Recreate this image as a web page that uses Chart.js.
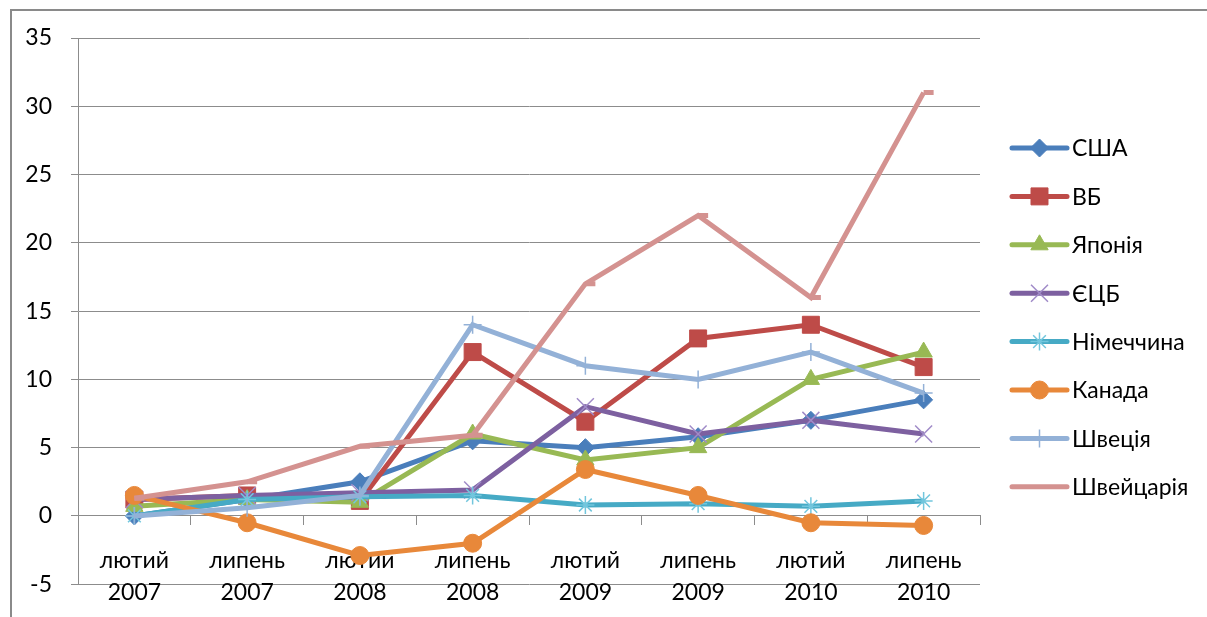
<!DOCTYPE html>
<html>
<head>
<meta charset="utf-8">
<script src="https://cdn.jsdelivr.net/npm/chart.js@4.4.0/dist/chart.umd.min.js"></script>
<style>
  html, body { margin: 0; padding: 0; background: #fff; }
  #wrap { width: 1207px; height: 617px; position: relative; }
</style>
</head>
<body>
<div id="wrap"><canvas id="chart"></canvas></div>
<script>
// data
const categories = [
  ['лютий', '2007'], ['липень', '2007'], ['лютий', '2008'], ['липень', '2008'],
  ['лютий', '2009'], ['липень', '2009'], ['лютий', '2010'], ['липень', '2010']
];
const seriesNames = ['США', 'ВБ', 'Японія', 'ЄЦБ', 'Німеччина', 'Канада', 'Швеція', 'Швейцарія'];
const usa     = [0, 1.2, 2.5, 5.5, 5, 5.8, 7, 8.5];
const uk      = [1.2, 1.5, 1.1, 12, 6.9, 13, 14, 10.9];
const japan   = [0.7, 1.2, 1.0, 6, 4.1, 5, 10, 12];
const ecb     = [1.2, 1.5, 1.7, 1.9, 8, 6, 7, 6];
const germany = [0, 1.2, 1.4, 1.5, 0.8, 0.9, 0.7, 1.1];
const canada  = [1.5, -0.5, -2.9, -2, 3.4, 1.5, -0.5, -0.7];
const sweden  = [0, 0.6, 1.5, 14, 11, 10, 12, 9];
const swiss   = [1.3, 2.5, 5.1, 5.9, 17, 22, 16, 31];
const yMin = -5, yMax = 35, yStep = 5;

const FONT = 'Lato, "Open Sans", sans-serif';
const FONT_SIZE = 23;
const gridColor = '#8c8c8c';

const styles = [
  { line: '#4a7ebb', fill: '#4a7ebb', point: 'rectRot',  r: 9,  bw: 1 },
  { line: '#be4b48', fill: '#be4b48', point: 'rect',     r: 12, bw: 1 },
  { line: '#98b954', fill: '#98b954', point: 'triangle', r: 10, bw: 1 },
  { line: '#7d60a0', fill: '#a08bc8', point: 'crossRot', r: 12, bw: 1.5 },
  { line: '#46aac5', fill: '#72c6dd', point: 'star',     r: 9,  bw: 1.5 },
  { line: '#e8883a', fill: '#e8883a', point: 'circle',   r: 9,  bw: 1 },
  { line: '#93b1d7', fill: '#93b1d7', point: 'cross',    r: 9,  bw: 1.5 },
  { line: '#d49290', fill: '#d49290', point: 'dash',     r: 10, bw: 5 }
];
const values = [usa, uk, japan, ecb, germany, canada, sweden, swiss];

const datasets = values.map((v, i) => {
  const s = styles[i];
  const lineMarker = ['crossRot', 'star', 'cross', 'dash'].includes(s.point);
  return {
    label: seriesNames[i],
    data: v,
    borderColor: s.line,
    backgroundColor: s.fill,
    borderWidth: 5,
    tension: 0,
    pointStyle: s.point,
    pointRadius: s.r,
    pointHoverRadius: s.r,
    pointBorderWidth: s.bw,
    pointBorderColor: lineMarker ? s.fill : s.line,
    pointBackgroundColor: s.fill,
    order: values.length - i
  };
});

// outer frame of the chart object (top and left edge only are visible)
const framePlugin = {
  id: 'frame',
  beforeDraw(chart) {
    const ctx = chart.ctx;
    ctx.save();
    ctx.strokeStyle = '#8a8a8a';
    ctx.lineWidth = 2;
    ctx.beginPath();
    ctx.moveTo(11, chart.height);
    ctx.lineTo(11, 10);
    ctx.lineTo(chart.width, 10);
    ctx.stroke();
    ctx.restore();
  }
};

// legend on the right: line sample with marker, then name
const legendPlugin = {
  id: 'sideLegend',
  afterDraw(chart) {
    const ctx = chart.ctx;
    const x0 = 1012, x1 = 1067, top = 148, step = 48.4;
    ctx.save();
    chart.data.datasets.forEach((ds, i) => {
      const y = top + i * step;
      ctx.strokeStyle = ds.borderColor;
      ctx.lineWidth = 5;
      ctx.lineCap = 'round';
      ctx.beginPath();
      ctx.moveTo(x0, y);
      ctx.lineTo(x1, y);
      ctx.stroke();
      if (ds.pointStyle !== 'dash') {
        ctx.lineCap = 'butt';
        ctx.fillStyle = ds.pointBackgroundColor;
        ctx.strokeStyle = ds.pointBorderColor;
        ctx.lineWidth = ds.pointBorderWidth;
        Chart.helpers.drawPoint(ctx, {
          pointStyle: ds.pointStyle, radius: ds.pointRadius, rotation: 0,
          borderWidth: ds.pointBorderWidth
        }, (x0 + x1) / 2, y);
      }
      ctx.fillStyle = '#000';
      ctx.font = FONT_SIZE + 'px ' + FONT;
      ctx.textBaseline = 'middle';
      ctx.textAlign = 'left';
      ctx.fillText(ds.label, x1 + 5, y + 1);
    });
    ctx.restore();
  }
};

new Chart(document.getElementById('chart'), {
  type: 'line',
  data: { labels: categories, datasets },
  options: {
    responsive: true,
    maintainAspectRatio: false,
    animation: false,
    layout: { padding: { left: 0, top: 38, right: 227, bottom: 29 } },
    plugins: {
      legend: { display: false },
      tooltip: { enabled: false }
    },
    scales: {
      x: {
        position: { y: 0 },
        offset: true,
        grid: {
          offset: true,
          drawOnChartArea: false,
          drawTicks: true,
          tickLength: 9,
          color: gridColor
        },
        border: { display: true, color: gridColor, width: 1 },
        ticks: {
          color: '#000',
          padding: 20,
          maxRotation: 0,
          autoSkip: false,
          font: { family: FONT, size: FONT_SIZE, lineHeight: 1.38 }
        }
      },
      y: {
        min: yMin,
        max: yMax,
        afterFit(scale) { scale.width = 78; },
        grid: {
          color: gridColor,
          tickLength: 7,
          drawTicks: true
        },
        border: { display: true, color: gridColor, width: 1 },
        ticks: {
          stepSize: yStep,
          color: '#000',
          padding: 19,
          font: { family: FONT, size: FONT_SIZE }
        }
      }
    }
  },
  plugins: [framePlugin, legendPlugin]
});
</script>
</body>
</html>
